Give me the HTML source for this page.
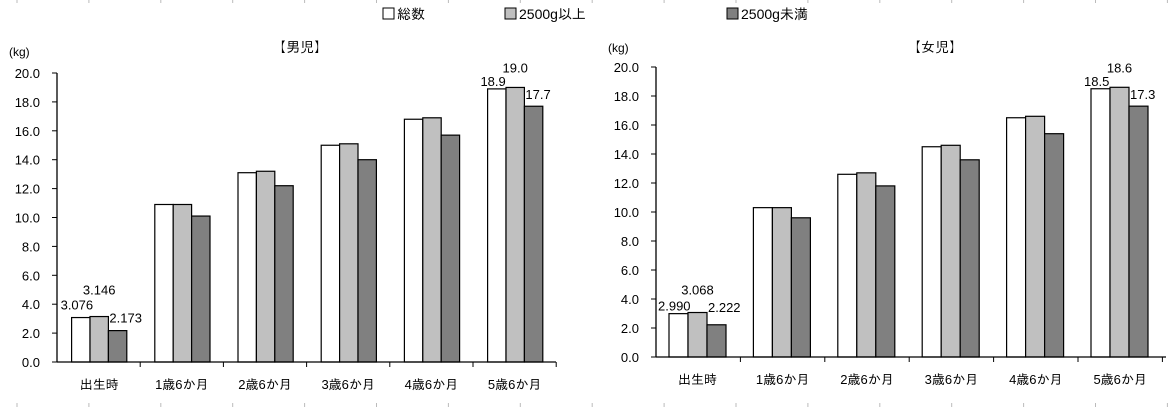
<!DOCTYPE html>
<html><head><meta charset="utf-8">
<style>
html,body{margin:0;padding:0;background:#fff;}
svg text{font-family:"Liberation Sans","IPAGothic","Noto Sans CJK JP",sans-serif;fill:#000;}
</style></head>
<body>
<svg id="chart" width="1169" height="407" viewBox="0 0 1169 407" xmlns="http://www.w3.org/2000/svg">
<g id="deco"></g>
<g font-size="14">
  <g><rect x="383" y="8" width="11" height="11" fill="#fff" stroke="#000"/><text x="397" y="19">総数</text></g>
  <g><rect x="505" y="8" width="11" height="11" fill="#c0c0c0" stroke="#000"/><text x="519" y="19">2500g以上</text></g>
  <g><rect x="727" y="8" width="11" height="11" fill="#808080" stroke="#000"/><text x="741" y="19">2500g未満</text></g>
</g>
<g id="left"></g>
<g id="right"></g>
</svg>
<script>
const categories = ["出生時","1歳6か月","2歳6か月","3歳6か月","4歳6か月","5歳6か月"];
const yTicks = [0,2,4,6,8,10,12,14,16,18,20];
const boysTotal = [3.076,10.9,13.1,15.0,16.8,18.9];
const boysOver = [3.146,10.9,13.2,15.1,16.9,19.0];
const boysUnder = [2.173,10.1,12.2,14.0,15.7,17.7];
const boysLabels = [["3.076","3.146","2.173"],null,null,null,null,["18.9","19.0","17.7"]];
const girlsTotal = [2.990,10.3,12.6,14.5,16.5,18.5];
const girlsOver = [3.068,10.3,12.7,14.6,16.6,18.6];
const girlsUnder = [2.222,9.6,11.8,13.6,15.4,17.3];
const girlsLabels = [["2.990","3.068","2.222"],null,null,null,null,["18.5","18.6","17.3"]];
const fills = ["#ffffff","#c0c0c0","#808080"];
const NS = "http://www.w3.org/2000/svg";
function mk(parent, tag, attrs, txt){const e=document.createElementNS(NS,tag);for(const k in attrs)e.setAttribute(k,attrs[k]);if(txt!=null)e.textContent=txt;parent.appendChild(e);return e;}

const deco=document.getElementById('deco');
for(let i=0;i<17;i++){const x=17+71.9*i;
  const a=mk(deco,'line',{x1:x,y1:0,x2:x,y2:3,stroke:'#bbb'});
  
  
  const b=mk(deco,'line',{x1:x,y1:403,x2:x,y2:407,stroke:'#bbb'});
  
  
}

function drawChart(g, cfg, series, labels){
  const {x0,y0,y20,cat,off,bw,axisEnd,title,titleX,kgX,kgY,firstDy}=cfg;
  const ys=v=>y0-(v/20)*(y0-y20);
  const t=mk(g,'text',{x:titleX,y:cfg.titleY,'font-size':14,'text-anchor':'middle'},'【'+title+'】');
  
  
  const k=mk(g,'text',{x:kgX,y:kgY,'font-size':12},'(kg)');
  
  
  yTicks.forEach(v=>{const y=ys(v);
    const tl=mk(g,'text',{x:x0-17,y:y+5,'font-size':13,'text-anchor':'end'},v.toFixed(1));
    
    
    mk(g,'line',{x1:x0-5,y1:y,x2:x0,y2:y,stroke:'#000'});
  });
  categories.forEach((c,i)=>{
    const cx=x0+cat*i;
    series.forEach((s,j)=>{
      const x=cx+off+bw*j, y=ys(s[i]);
      const r=mk(g,'rect',{x:x,y:y,width:bw,height:y0-y,fill:fills[j],stroke:'#000','stroke-width':1.2});
      
      
    });
    const cl=mk(g,'text',{x:cx+(i===0?off+1.5*bw:cat/2),y:y0+27,'font-size':13,'text-anchor':'middle'},c);
    
    
    mk(g,'line',{x1:cx+cat,y1:y0,x2:cx+cat,y2:y0+5,stroke:'#000'});
    if(labels[i]){
      const xs=[cx+off-11,cx+off+bw+2,cx+off+2*bw+1];
      const dy=i===0?firstDy:[-3,-15,-7];
      const anch=['start','middle','start'];
      labels[i].forEach((l,j)=>{
        const bx=j===1?cx+off+bw*1.5:xs[j];
        let ax=anch[j], xx=bx;
        if(i===5&&j===0){ax='middle';xx=cx+off+bw*0.3;}
        const d=mk(g,'text',{x:xx,y:ys(series[j][i])+dy[j],'font-size':13,'text-anchor':ax},l);
        
        
      });
    }
  });
  mk(g,'line',{x1:x0,y1:y20,x2:x0,y2:y0,stroke:'#000','stroke-width':1.3});
  mk(g,'line',{x1:x0,y1:y0,x2:axisEnd,y2:y0,stroke:'#000','stroke-width':1.3});
}
drawChart(document.getElementById('left'),
  {x0:57,y0:362,y20:73,cat:83.2,off:14.6,bw:18.4,axisEnd:556,title:'男児',titleX:300,titleY:52,kgX:9,kgY:56,firstDy:[-8,-22,-8]},
  [boysTotal,boysOver,boysUnder],boysLabels);
drawChart(document.getElementById('right'),
  {x0:656,y0:357,y20:67,cat:84.4,off:13,bw:19,axisEnd:1166,title:'女児',titleX:935,titleY:52,kgX:608,kgY:52,firstDy:[-3,-18,-13]},
  [girlsTotal,girlsOver,girlsUnder],girlsLabels);
</script>
</body></html>
